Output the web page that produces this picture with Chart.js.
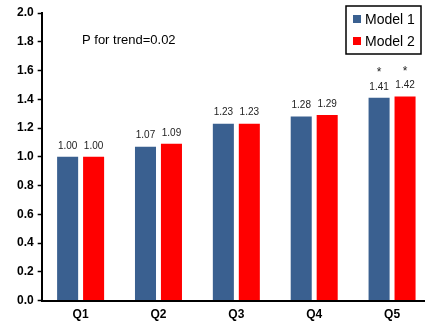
<!DOCTYPE html>
<html>
<head>
<meta charset="utf-8">
<script src="https://cdn.jsdelivr.net/npm/chart.js@4.4.1/dist/chart.umd.min.js"></script>
<style>
  html, body { margin: 0; padding: 0; background: #fff; overflow: hidden; }
  #wrap { width: 425px; height: 321px; overflow: hidden; }
</style>
</head>
<body>
<div id="wrap"><canvas id="riskChart" width="431" height="321"></canvas></div>
<script>
const quintiles = ['Q1', 'Q2', 'Q3', 'Q4', 'Q5'];
const model1 = [1.00, 1.07, 1.23, 1.28, 1.41];
const model2 = [1.00, 1.09, 1.23, 1.29, 1.42];
const significant = [false, false, false, false, true];
const trendText = 'P for trend=0.02';

// value labels, asterisks, trend note and boxed legend
const annotate = {
    id: 'annotate',
    afterDatasetsDraw(chart) {
        const c = chart.ctx;
        c.save();
        c.font = '10px "Liberation Sans", Arial, sans-serif';
        c.fillStyle = '#222';
        c.textAlign = 'center';
        c.textBaseline = 'bottom';
        chart.data.datasets.forEach((ds, i) => {
            chart.getDatasetMeta(i).data.forEach((bar, j) => {
                c.fillText(ds.data[j].toFixed(2), bar.x, bar.y - 6);
                if (significant[j]) {
                    c.font = '12px "Liberation Sans", Arial, sans-serif';
                    c.fillText('*', bar.x, bar.y - 19);
                    c.font = '10px "Liberation Sans", Arial, sans-serif';
                }
            });
        });

        c.font = '13px "Liberation Sans", Arial, sans-serif';
        c.fillStyle = '#000';
        c.textAlign = 'left';
        c.textBaseline = 'middle';
        c.fillText(trendText, 82, 40);

        // legend
        const lx = 346, ly = 6, lw = 75, lh = 48;
        c.fillStyle = '#fff';
        c.fillRect(lx, ly, lw, lh);
        c.strokeStyle = '#000';
        c.lineWidth = 1.5;
        c.strokeRect(lx, ly, lw, lh);
        c.font = '14px "Liberation Sans", Arial, sans-serif';
        chart.data.datasets.forEach((ds, i) => {
            const y = ly + 13 + i * 22;
            c.fillStyle = ds.backgroundColor;
            c.fillRect(lx + 7, y - 4, 8, 8);
            c.fillStyle = '#000';
            c.fillText(ds.label, lx + 19, y + 1);
        });
        c.restore();
    }
};

new Chart(document.getElementById('riskChart'),
{
    type: 'bar',
    data:
    {
        labels: quintiles,
        datasets: [
            {
                label: 'Model 1',
                data: model1,
                backgroundColor: '#3a6090'
            },
            {
                label: 'Model 2',
                data: model2,
                backgroundColor: '#ff0000'
            }
        ]
    },
    options:
    {
        responsive: false,
        animation: false,
        categoryPercentage: 0.667,
        barPercentage: 0.81,
        layout: { padding: { top: 13, left: 13, right: 0, bottom: -8 } },
        plugins:
        {
            legend: { display: false },
            tooltip: { enabled: false }
        },
        scales:
        {
            x:
            {
                grid: { display: false, drawTicks: false },
                border: { color: '#000', width: 2 },
                ticks:
                {
                    color: '#000',
                    padding: 7,
                    font: { family: '"Liberation Sans", Arial, sans-serif', size: 12, weight: 'bold' }
                }
            },
            y:
            {
                min: 0,
                max: 2,
                grid: { display: true, drawOnChartArea: false, drawTicks: true, tickLength: 4, tickColor: '#000', tickWidth: 1.5 },
                border: { color: '#000', width: 2 },
                ticks:
                {
                    stepSize: 0.2,
                    color: '#000',
                    padding: 4,
                    callback: v => v.toFixed(1),
                    font: { family: '"Liberation Sans", Arial, sans-serif', size: 12, weight: 'bold' }
                }
            }
        }
    },
    plugins: [annotate]
});
</script>
</body>
</html>
